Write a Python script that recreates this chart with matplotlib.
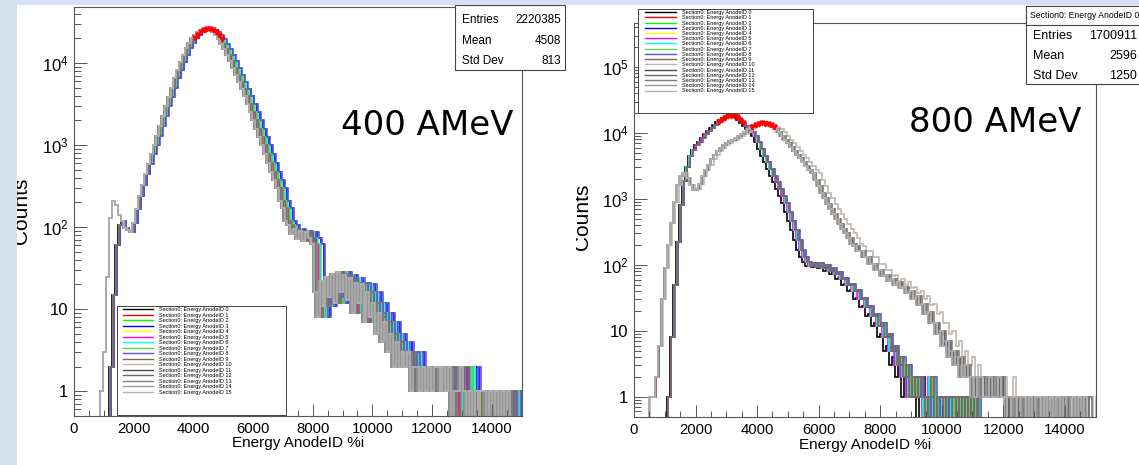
import numpy as np
import matplotlib
matplotlib.use("Agg")
import matplotlib.pyplot as plt
from matplotlib.patches import Rectangle
from matplotlib.lines import Line2D
from matplotlib.ticker import LogLocator, MultipleLocator, FuncFormatter, NullFormatter

plt.rcParams['font.family'] = ['Liberation Sans', 'DejaVu Sans']
plt.rcParams['mathtext.fontset'] = 'custom'
plt.rcParams['mathtext.rm'] = 'Liberation Sans'
plt.rcParams['mathtext.it'] = 'Liberation Sans:italic'
plt.rcParams['mathtext.bf'] = 'Liberation Sans:bold'

# ---------------- data (counts per 100-wide bin) ----------------
BIN_WIDTH = 100
anode_labels = [f"Section0: Energy AnodeID {i}" for i in range(16)]
anode_colors = ['#000000', '#ff0000', '#00ff00', '#0000ff', '#ffff00', '#ff00ff',
                '#00ffff', '#59d454', '#5954d9', '#876657', '#c0b6ac', '#4c4c4c',
                '#666666', '#7f7f7f', '#999999', '#b2b2b2']

# 400 AMeV: bins 0-1600 differ between anodes 0-9 and 10-15, rest is shared
low400_colored = [0, 0, 0, 0, 0, 0, 0, 0, 0, 0, 0, 0, 2, 15, 60, 105]
low400_gray = [0, 0, 0, 0, 0, 0, 0, 0, 0, 1, 3, 25, 130, 210, 185, 140]
main400 = [118, 98, 92, 88, 112, 165, 240, 330, 440, 590,
           780, 1010, 1300, 1700, 2250, 2950, 3850, 5000, 6500, 8300,
           10300, 12600, 15000, 17500, 19900, 22000, 23800, 25100, 25900, 25900,
           25100, 23600, 21600, 19300, 16900, 14600, 12400, 10500, 8700, 7200,
           5900, 4800, 3900, 3150, 2500, 2000, 1580, 1250, 990, 780,
           610, 470, 370, 300, 210, 170, 120, 105, 82, 96,
           72, 90, 68, 86, 74, 62, 16, 8, 22, 11,
           25, 14, 27, 12, 28, 16, 26, 13, 24, 9,
           21, 12, 20, 7, 16, 8, 12, 5, 9, 4,
           7, 3, 5, 2, 4, 2, 3, 2, 3, 1,
           2, 2, 1, 2, 1, 2, 1, 2, 2, 1,
           2, 1, 2, 0, 1, 1, 2, 1, 0, 1,
           0, 1, 0, 1, 1, 0, 1, 0, 1, 0,
           1, 0, 1, 0]
gain400 = [0.985, 1.0, 1.005, 1.02, 1.01, 1.0, 1.01, 1.005, 1.025, 0.995,
           0.98, 0.975, 0.98, 0.985, 0.975, 0.98]

# 800 AMeV: anodes 0-9 and anodes 10-15
spec800_colored = [0, 0, 0, 0, 0, 0, 0, 0, 0, 0,
                   0, 1, 8, 50, 220, 800, 1900, 3100, 4500, 5600,
                   6500, 7400, 8500, 9600, 10800, 12000, 13300, 14600, 15900, 17000,
                   17900, 18400, 18200, 17300, 16000, 14400, 12800, 11400, 10200, 9000,
                   7200, 5700, 4500, 3600, 2850, 2250, 1780, 1400, 1100, 860,
                   640, 470, 340, 240, 170, 130, 112, 96, 108, 92,
                   106, 90, 98, 82, 90, 74, 78, 62, 64, 50,
                   52, 40, 41, 30, 31, 23, 24, 17, 18, 12,
                   13, 8, 9, 5, 6, 3, 4, 2, 3, 1,
                   2, 1, 2, 1, 0, 1, 2, 0, 1, 1,
                   0, 1, 1, 0, 1, 0, 1, 0, 1, 0,
                   1, 0, 0, 0, 0, 0, 0, 0, 0, 0] + [0] * 30
spec800_gray = [0, 0, 0, 0, 0, 1, 1, 2, 6, 30,
                90, 200, 430, 900, 1600, 2200, 2450, 2100, 1600, 1350,
                1400, 1700, 2200, 2750, 3300, 4000, 4700, 5300, 5900, 6500,
                7000, 7500, 7900, 8300, 8900, 9700, 10500, 11500, 12400, 13200,
                13800, 14000, 13900, 13500, 13000, 12300, 11400, 10300, 9100, 7900,
                7100, 6200, 5400, 4700, 4150, 3600, 3150, 2750, 2450, 1950,
                1550, 1230, 1030, 850, 710, 590, 500, 420, 355, 300,
                255, 205, 195, 165, 160, 132, 130, 105, 104, 85,
                84, 68, 70, 58, 62, 50, 55, 44, 47, 37,
                40, 30, 34, 25, 26, 18, 19, 13, 13, 9,
                10, 6, 7, 4, 5, 3, 4, 2, 3, 2,
                2, 1, 2, 2, 1, 1, 2, 1, 1, 2,
                1, 1, 0, 1, 1, 0, 1, 1, 0, 1,
                0, 1, 1, 0, 1, 0, 1, 0, 1, 0,
                1, 0, 0, 1, 0, 1, 0, 1, 0, 0]
gain800 = [0.975, 1.0, 1.0, 1.01, 1.005, 0.995, 1.0, 1.01, 1.015, 1.005,
           1.035, 1.0, 0.99, 1.005, 0.985, 0.995]

stats400 = [("Entries", "2220385"), ("Mean", "4508"), ("Std Dev", "813")]
stats800 = [("Entries", "1700911"), ("Mean", "2596"), ("Std Dev", "1250")]

# ---------------- figure ----------------
W, H = 1139, 465
fig = plt.figure(figsize=(W / 100, H / 100), dpi=100)
FRAME = '#555555'


def px_rect(x0, y0, x1, y1, **kw):
    r = Rectangle((x0 / W, 1 - y1 / H), (x1 - x0) / W, (y1 - y0) / H,
                  transform=fig.transFigure, **kw)
    fig.patches.append(r)
    return r


def root_log_label(v, pos):
    e = int(round(np.log10(v)))
    if e == 0:
        return '1'
    if e == 1:
        return '10'
    return r'$10^{%d}$' % e


def draw_panel(ax, groups, gains, ylim, peaks):
    for i in range(16):
        vals = np.asarray(groups[1 if i >= 10 else 0], float)
        edges = np.arange(len(vals) + 1) * BIN_WIDTH * gains[i]
        ax.stairs(vals, edges, baseline=None, color=anode_colors[i], lw=1.2)
    # red markers on the top of the peaks
    for vals, frac in peaks:
        v = np.asarray(vals, float)
        centers = (np.arange(len(v)) + 0.5) * BIN_WIDTH * gains[1]
        sel = v >= frac * v.max()
        ax.plot(centers[sel], v[sel], 'v', color='red', ms=3.5, zorder=3)

    ax.set_yscale('log')
    ax.set_xlim(0, 15000)
    ax.set_ylim(*ylim)
    ax.xaxis.set_major_locator(MultipleLocator(2000))
    ax.xaxis.set_minor_locator(MultipleLocator(500))
    ax.yaxis.set_major_locator(LogLocator(base=10, numticks=20))
    ax.yaxis.set_minor_locator(LogLocator(base=10, subs=np.arange(2, 10), numticks=20))
    ax.yaxis.set_major_formatter(FuncFormatter(root_log_label))
    ax.yaxis.set_minor_formatter(NullFormatter())
    ax.tick_params(axis='x', which='major', direction='in', length=8.5, width=0.7,
                   pad=4.5, labelsize=10.7, color=FRAME)
    ax.tick_params(axis='x', which='minor', direction='in', length=4.3, width=0.7, color=FRAME)
    ax.tick_params(axis='y', which='major', direction='in', length=9.4, width=0.7,
                   pad=4, labelsize=12, color=FRAME)
    ax.tick_params(axis='y', which='minor', direction='in', length=4.7, width=0.7, color=FRAME)
    for sp in ax.spines.values():
        sp.set_linewidth(0.8)
        sp.set_color(FRAME)


# left panel: 400 AMeV
ax1 = fig.add_axes([74 / W, 1 - 416 / H, 447.6 / W, 409 / H])
left_colored = low400_colored + main400
left_gray = low400_gray + main400
draw_panel(ax1, (left_colored, left_gray), gain400, (0.5, 4.8e4), [(left_colored, 0.7)])
ax1.set_xlabel('Energy AnodeID %i', fontsize=11, va='center')
ax1.xaxis.set_label_coords(0.5, (416 - 443) / 409)
ax1.set_ylabel('Counts', fontsize=15, rotation=90, rotation_mode='anchor',
               ha='center', va='baseline')
ax1.yaxis.set_label_coords((27 - 74) / 447.6, (416 - 211) / 409)

# right panel: 800 AMeV
ax2 = fig.add_axes([634 / W, 1 - 416.7 / H, 461.5 / W, 393.4 / H])
draw_panel(ax2, (spec800_colored, spec800_gray), gain800, (0.5, 4.6e5),
           [(spec800_colored, 0.78), (spec800_gray, 0.85)])
ax2.set_xlabel('Energy AnodeID %i', fontsize=11, va='center')
ax2.xaxis.set_label_coords(0.5, (416.7 - 445) / 393.4)
ax2.set_ylabel('Counts', fontsize=15, rotation=90, rotation_mode='anchor',
               ha='center', va='baseline')
ax2.yaxis.set_label_coords((588 - 634) / 461.5, (416.7 - 217) / 393.4)

# big energy labels
fig.text(341 / W, 1 - 135 / H, '400 AMeV', fontsize=24.5, family='DejaVu Sans', va='baseline')
fig.text(909 / W, 1 - 132 / H, '800 AMeV', fontsize=24.5, family='DejaVu Sans', va='baseline')

# legends
handles = [Line2D([], [], color=c, lw=1.0) for c in anode_colors]
px_rect(117, 306, 286, 415, facecolor='white', edgecolor='#444444', lw=0.7, zorder=11)
leg1 = fig.legend(handles, anode_labels, loc='upper left', bbox_to_anchor=(122 / W, 1 - 306 / H),
                  bbox_transform=fig.transFigure, frameon=False, fontsize=4,
                  handlelength=5.4, handletextpad=1.1, labelspacing=0.09,
                  borderpad=0.2, borderaxespad=0)
leg1.set_zorder(12)
px_rect(638, 9, 813, 113, facecolor='white', edgecolor='#444444', lw=0.7, zorder=11)
leg2 = fig.legend(handles, anode_labels, loc='upper left', bbox_to_anchor=(644 / W, 1 - 9 / H),
                  bbox_transform=fig.transFigure, frameon=False, fontsize=4,
                  handlelength=5.6, handletextpad=1.1, labelspacing=0.04,
                  borderpad=0.2, borderaxespad=0)
leg2.set_zorder(12)

# stats boxes
px_rect(455, 5, 565, 70, facecolor='white', edgecolor='#444444', lw=0.8, zorder=11)
for k, (name, val) in enumerate(stats400):
    y = 1 - (20 + 20.5 * k) / H
    fig.text(462 / W, y, name, fontsize=8.5, va='center', zorder=12)
    fig.text(561 / W, y, val, fontsize=8.5, va='center', ha='right', zorder=12)

px_rect(1026, 6, 1150, 84, facecolor='white', edgecolor='#444444', lw=0.8, zorder=11)
px_rect(1026, 6, 1150, 25, facecolor='white', edgecolor='#444444', lw=0.8, zorder=11)
fig.text(1030 / W, 1 - 15.5 / H, 'Section0: Energy AnodeID 0', fontsize=6.2, va='center', zorder=12)
for k, (name, val) in enumerate(stats800):
    y = 1 - (36 + 20 * k) / H
    fig.text(1033 / W, y, name, fontsize=9, va='center', zorder=12)
    fig.text(1137 / W, y, val, fontsize=9, va='center', ha='right', zorder=12)

# slide background strips (they also clip the y labels)
px_rect(566, 150, 576, 290, facecolor='white', edgecolor='none', zorder=10)
px_rect(0, 0, 17, H, facecolor='#d5e3f1', edgecolor='none', zorder=20)
px_rect(0, 0, W, 5.5, facecolor='#d5e3f1', edgecolor='none', zorder=20)

fig.savefig('out.png', dpi=100)
